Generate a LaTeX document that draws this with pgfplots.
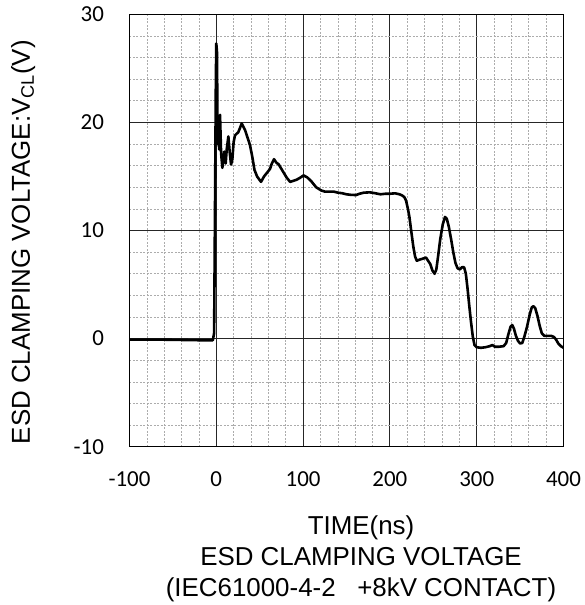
\documentclass[border=0pt]{standalone}
\usepackage{fontspec}
\setmainfont{Liberation Sans}
\newfontfamily\carlito{Carlito}
\usepackage{pgfplots}
\pgfplotsset{compat=1.18}

\begin{document}
\begin{tikzpicture}
\begin{axis}[
    scale only axis,
    width=434bp, height=432.4bp,
    xmin=-100, xmax=400,
    ymin=-10, ymax=30,
    xtick={-100,0,100,200,300,400},
    xticklabels={-100,0,100,200,300,400},
    ytick={-10,0,10,20,30},
    yticklabels={-10,0,10,20,30},
    minor x tick num=4,
    minor y tick num=4,
    grid=both,
    major grid style={black!85, line width=0.8bp},
    minor grid style={gray!65, dash pattern=on 2bp off 1.5bp, line width=0.6bp},
    axis line style={black, line width=1.3bp},
    major tick length=0pt, minor tick length=0pt,
    ticklabel style={font=\carlito\fontsize{23}{27}\selectfont},
    xticklabel style={yshift=-21bp},
    yticklabel style={xshift=-22bp},
    ylabel={ESD CLAMPING VOLTAGE:V\textsubscript{CL}(V)},
    ylabel style={font=\fontsize{26}{31}\selectfont, at={(axis description cs:-0.245,0.473)}, anchor=center, rotate=0},
    xlabel={TIME(ns)\\ESD CLAMPING VOLTAGE\\(IEC61000-4-2\ \ \ +8kV CONTACT)},
    xlabel style={font=\fontsize{26}{31}\selectfont, align=center, inner sep=0pt, at={(axis description cs:0.5334,-0.1603)}, anchor=north},
]
\addplot[black, line width=2.6bp, line join=round] coordinates {
(-100,-0.1) (-60,-0.1) (-20,-0.15) (-4,-0.15) (-2.5,0.5) (-1.5,12) (-0.5,24) (0,27.3)
(0.8,26.5) (1.5,18) (2.5,19) (3.3,17.5) (4.3,20.7) (5.5,17.2) (7,15.8) (8,16.5)
(9.2,17.3) (10.8,16.2) (12,17.5) (13.9,18.7) (15.5,17.2) (17,16.1) (18.5,16.6) (20,18.2)
(21.5,18.8) (25.4,19.1) (29.3,19.9) (33.1,19.3) (36,18.6) (38.8,17.9) (41.5,16.8) (44,15.6)
(47,15) (51.5,14.5) (55,15) (58,15.3) (61.9,15.7) (64,16.2) (66.5,16.6) (69,16.3)
(72,16.1) (75,15.7) (78,15.3) (81,14.9) (85,14.5) (89,14.6) (92.6,14.7) (97,14.9)
(100.5,15.1) (105,14.9) (110,14.5) (115,14.0) (121,13.7) (125,13.6) (135,13.6) (140,13.5)
(145,13.45) (150,13.35) (155,13.3) (161,13.28) (165,13.4) (170,13.5) (177,13.53) (183,13.45)
(189,13.35) (195,13.4) (200,13.4) (206,13.44) (211,13.35) (214,13.25) (216.5,13.1) (218.5,12.8)
(220.5,12.1) (222.4,11.3) (224.5,10) (227,8.5) (229,7.6) (231,7.2) (234,7.3) (238,7.4)
(241.6,7.5) (244,7.2) (246.5,6.9) (249,6.3) (251.5,6.0) (253.5,6.4) (255.5,7.6) (258,9.2)
(261,10.6) (263.5,11.25) (265.5,11.1) (268,10.3) (270.5,9.2) (273,8.0) (275.5,7.0) (278,6.5)
(280.5,6.4) (283,6.6) (285.5,6.6) (287.5,6.0) (289.5,4.6) (291.5,3.0) (293.5,1.5) (295.5,0.2)
(297.5,-0.6) (300,-0.8) (305,-0.85) (310,-0.8) (315,-0.7) (318,-0.6) (321,-0.75) (326,-0.75)
(331,-0.7) (334,-0.4) (336.5,0.4) (339,1.1) (341,1.25) (343,0.9) (345,0.3) (347.5,-0.2)
(350,-0.45) (352.5,-0.4) (355,0.2) (358,1.1) (361,2.2) (363.5,2.9) (365.5,3.0) (367.5,2.8)
(370,2.1) (372.5,1.2) (375,0.5) (378,0.25) (382,0.25) (386,0.25) (389,0.15) (391.5,-0.1)
(394,-0.45) (397,-0.7) (400,-0.85)
};
\coordinate (ll) at (rel axis cs:0,0);
\coordinate (ur) at (rel axis cs:1,1);
\end{axis}
\pgfresetboundingbox
\path[use as bounding box] ([shift={(-129.5bp,-158.3bp)}]ll) rectangle ([shift={(21.5bp,14.3bp)}]ur);
\end{tikzpicture}
\end{document}
